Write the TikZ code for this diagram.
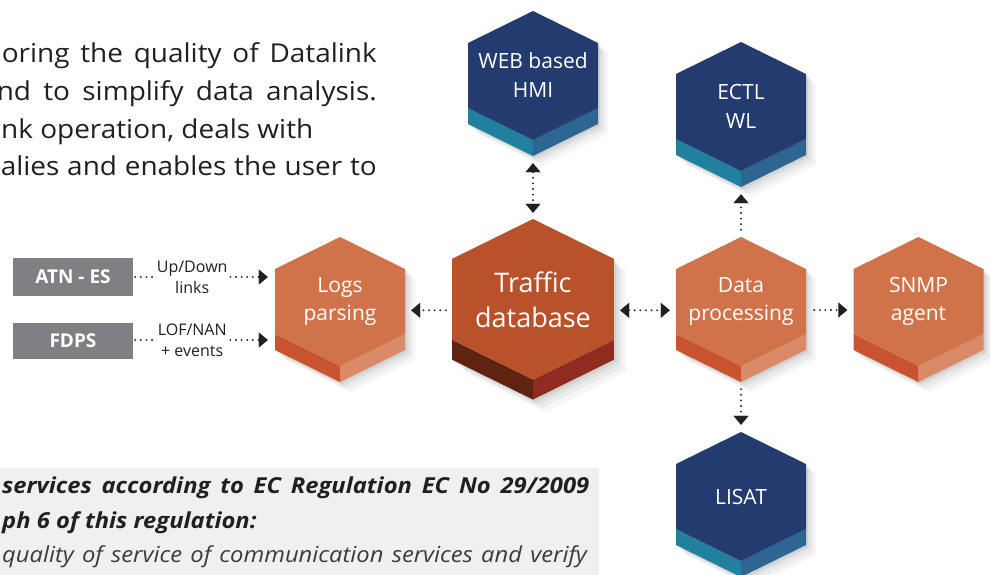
\documentclass[tikz,border=0pt]{standalone}
\usepackage{fontspec}
\setmainfont{Open Sans}
\usetikzlibrary{arrows.meta,calc}
\definecolor{navy}{HTML}{233B6E}
\definecolor{tealL}{HTML}{22809F}
\definecolor{tealR}{HTML}{2C6691}
\definecolor{orgF}{HTML}{D1734A}
\definecolor{orgL}{HTML}{C8532E}
\definecolor{orgR}{HTML}{DA8A69}
\definecolor{trfF}{HTML}{B9512B}
\definecolor{trfL}{HTML}{5F2410}
\definecolor{trfR}{HTML}{902B1F}
\definecolor{boxgrey}{HTML}{808084}
\definecolor{panel}{HTML}{EFF0F2}
\definecolor{ink}{HTML}{231F20}
\definecolor{inkgrey}{HTML}{3C3C3E}
\tikzset{
  hexlbl/.style={text=white, align=center, inner sep=0pt, draw=none},
  srcbox/.style={fill=boxgrey, text=white, inner sep=0pt, minimum width=120pt,
    font=\bfseries\fontsize{19}{20}\selectfont},
  dotline/.style={line width=2.1pt, dash pattern=on 0pt off 5.6pt, line cap=round, ink},
  tipR/.style={-{Triangle[length=9pt,width=15pt,line width=0.01pt]}},
  tipLR/.style={{Triangle[length=9pt,width=15pt,line width=0.01pt]}-{Triangle[length=9pt,width=15pt,line width=0.01pt]}},
  edgelbl/.style={fill=white, inner sep=1pt, align=center, text=ink,
    font=\fontsize{16}{21}\selectfont},
  bodytxt/.style={inner sep=0pt, text=ink, font=\fontsize{26}{30}\selectfont},
  paneltxt/.style={inner sep=0pt, anchor=base west},
}
% #1 name, #2 cx, #3 top, #4 scale, #5 face, #6 band left, #7 band right, #8 font, #9 text
\newcommand{\hexa}[9]{%
  \begin{scope}[shift={(#2,#3)},scale=#4]
    \foreach \d/\o in {2/0.06,4/0.05,7/0.045,10/0.035}{
      \fill[black,opacity=\o] (\d,\d) -- ++(65,32) -- ++(0,81) -- ++(-65,32) -- ++(-65,-32) -- ++(0,-81) -- cycle;}
    \fill[#6] (-65,97) -- (0,129) -- (0,145) -- (-65,113) -- cycle;
    \fill[#7] (0,129) -- (65,97) -- (65,113) -- (0,145) -- cycle;
    \fill[#5] (0,0) -- (65,32) -- (65,97) -- (0,129) -- (-65,97) -- (-65,32) -- cycle;
  \end{scope}
  \node[hexlbl, font=#8, minimum width={130*#4}, minimum height={129*#4}] (#1) at ({#2},{#3+64.5*#4}) {#9};
}
\newcommand{\wide}[1]{\scalebox{1.075}[1]{#1}}
\newcommand{\wider}[1]{\scalebox{1.08}[1]{#1}}
\begin{document}
\begin{tikzpicture}[x=1pt,y=-1pt]
\useasboundingbox (0,0) rectangle (990,574);
\clip (0,0) rectangle (990,574);

% top paragraph (cut at the left edge)
\node[bodytxt, anchor=base east] (p1) at (377,62) {\wide{\makebox[348.8pt][s]{oring the quality of Datalink}}};
\node[bodytxt, anchor=base east] (p2) at (377,100) {\wide{\makebox[353.5pt][s]{nd to simplify data analysis.}}};
\node[bodytxt, anchor=base west] (p3) at (1,138) {\wide{nk operation, deals with}};
\node[bodytxt, anchor=base east] (p4) at (377,175) {\wide{\makebox[349.8pt][s]{alies and enables the user to}}};

% bottom panel
\fill[panel] (0,468) rectangle (599,580);
\node[paneltxt, text=ink, font=\bfseries\itshape\fontsize{22}{24}\selectfont] (b1) at (2,493) {\wider{\makebox[543.5pt][s]{services according to EC Regulation EC No 29/2009}}};
\node[paneltxt, text=ink, font=\bfseries\itshape\fontsize{22}{24}\selectfont] (b2) at (2,528) {\wider{ph 6 of this regulation:}};
\node[paneltxt, text=inkgrey, font=\itshape\fontsize{22}{24}\selectfont] (b3) at (2,562) {\wider{\makebox[541.5pt][s]{quality of service of communication services and verify}}};

% hexagons
\hexa{web}{533}{11}{1}{navy}{tealL}{tealR}{\fontsize{21}{29}\selectfont}{WEB based\\HMI}
\hexa{ectl}{741}{42}{1}{navy}{tealL}{tealR}{\fontsize{21}{29}\selectfont}{ECTL\\WL}
\hexa{logs}{340}{237}{1}{orgF}{orgL}{orgR}{\fontsize{21}{28}\selectfont}{Logs\\parsing}
\hexa{trf}{533}{219}{1.245}{trfF}{trfL}{trfR}{\fontsize{27}{35}\selectfont}{Traffic\\database}
\hexa{data}{741}{237}{1}{orgF}{orgL}{orgR}{\fontsize{21}{28}\selectfont}{Data\\processing}
\hexa{snmp}{918.5}{237}{1}{orgF}{orgL}{orgR}{\fontsize{21}{28}\selectfont}{SNMP\\agent}
\hexa{lisat}{741}{432}{1}{navy}{tealL}{tealR}{\fontsize{21}{29}\selectfont}{LISAT}

% source boxes
\node[srcbox, minimum height=38pt] (atn) at (73,277) {ATN - ES};
\node[srcbox, minimum height=36pt] (fdps) at (73,341) {FDPS};

% connectors
\draw[dotline, tipR] ($(atn.east)+(2,0)$) -- ($(atn.east -| logs.west)+(-7,0)$)
  node[edgelbl, pos=0.43] {Up/Down\\links};
\draw[dotline, tipR] ($(fdps.east)+(2,-1)$) -- ($(fdps.east -| logs.west)+(-7,-1)$)
  node[edgelbl, pos=0.43] {LOF/NAN\\+ events};
\draw[dotline, tipR] ($(trf.west)+(-6,11)$) -- ($(trf.west -| logs.east)+(6,11)$);
\draw[dotline, tipLR] ($(trf.east)+(6,11)$) -- ($(trf.east -| data.west)+(-6,11)$);
\draw[dotline, tipR] ($(data.east)+(8,8.5)$) -- ($(data.east -| snmp.west)+(-6,8.5)$);
\draw[dotline, tipLR] ($(web.south)+(0,23)$) -- ($(trf.north)+(0,-6)$);
\draw[dotline, tipR] ($(data.north)+(0,-7)$) -- ($(ectl.south)+(0,23)$);
\draw[dotline, tipR] ($(data.south)+(0,23)$) -- ($(lisat.north)+(0,-7)$);
\end{tikzpicture}
\end{document}
